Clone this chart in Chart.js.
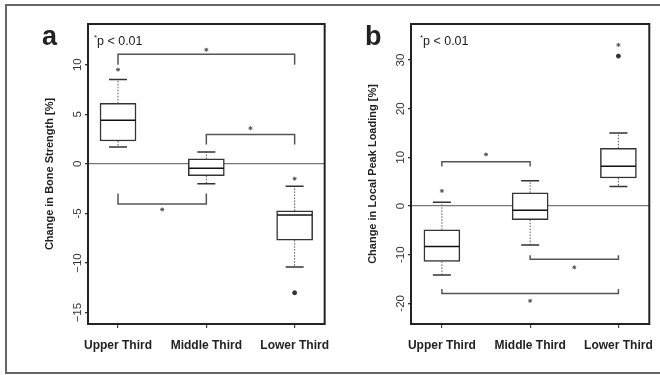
<!DOCTYPE html>
<html>
<head>
<meta charset="utf-8">
<script src="https://cdn.jsdelivr.net/npm/chart.js@4.4.0/dist/chart.umd.min.js"></script>
<style>
  body { margin: 0; background: #fff; }
  #wrap { position: relative; width: 660px; height: 375px; overflow: hidden; }
  #frame {
    position: absolute; left: 5px; top: 4px; width: 700px; height: 366px;
    border-left: 2px solid #666; border-top: 2px solid #666; border-bottom: 2px solid #666;
  }
  canvas { position: absolute; top: 0; }
  #chartA { left: 0; }
  #chartB { left: 330px; }
</style>
</head>
<body>
<div id="wrap">
  <div id="frame"></div>
  <canvas id="chartA" width="341" height="375"></canvas>
  <canvas id="chartB" width="336" height="375"></canvas>
</div>
<script>
/* DATA */

const categories = ['Upper Third', 'Middle Third', 'Lower Third'];

// a: change in bone strength [%]
const boneLow = [1.7, -2.0, -10.4];
const boneQ1 = [2.3, -1.2, -7.7];
const boneMed = [4.4, -0.45, -5.15];
const boneQ3 = [6.1, 0.5, -4.75];
const boneHigh = [8.5, 1.2, -2.25];
const boneOutX = [2];
const boneOutY = [-13.0];
const boneStars = [9.5, null, -1.5];
// [from, to, level, tip end, asterisk]
const boneBrackets = [[0, 2, 11.05, 10.0, 11.5], [1, 2, 2.97, 1.96, 3.6], [0, 1, -4.04, -3.0, -4.6]];
const boneTicks = [-15, -10, -5, 0, 5, 10];
const boneTickLabels = ['\u221215', '\u221210', '-5', '0', '5', '10'];

// b: change in local peak loading [%]
const loadLow = [-14.2, -8.0, 4.0];
const loadQ1 = [-11.4, -2.8, 5.75];
const loadMed = [-8.3, -0.9, 8.15];
const loadQ3 = [-4.9, 2.7, 11.85];
const loadHigh = [0.75, 5.2, 15.0];
const loadOutX = [2];
const loadOutY = [30.8];
const loadStars = [3.1, null, 33.1];
const loadBrackets = [[0, 1, 9.1, 8.1, 10.6], [1, 2, -10.95, -10.1, -12.6], [0, 2, -18.0, -17.05, -19.5]];
const loadTicks = [-20, -10, 0, 10, 20, 30];
const loadTickLabels = ['-20', '-10', '0', '10', '20', '30'];


/* BOX PLOT BUILDER */

const FONT = 'Liberation Sans, Arial, Helvetica, sans-serif';

function makeChart(id, d) {
  const idx = categories.map((c, i) => i);

  // dotted whiskers, broken with nulls
  const whiskers = [];
  idx.forEach(i => {
    whiskers.push({x: i, y: d.q3[i]}, {x: i, y: d.high[i]}, {x: i, y: null});
    whiskers.push({x: i, y: d.q1[i]}, {x: i, y: d.low[i]}, {x: i, y: null});
  });

  const brackets = [];
  d.brackets.forEach(b => {
    brackets.push({x: b[0], y: b[3]}, {x: b[0], y: b[2]}, {x: b[1], y: b[2]}, {x: b[1], y: b[3]}, {x: b[1], y: null});
  });

  const stars = [];
  idx.forEach(i => { if (d.stars[i] !== null) stars.push({x: i, y: d.stars[i]}); });
  d.brackets.forEach(b => stars.push({x: (b[0] + b[1]) / 2, y: b[4]}));

  const extras = {
    id: 'extras',
    afterDraw(chart) {
      const ctx = chart.ctx;
      const a = chart.chartArea;
      const ys = chart.scales.y;
      ctx.save();
      // plot box
      ctx.strokeStyle = '#222';
      ctx.lineWidth = 2;
      ctx.strokeRect(a.left, a.top, a.right - a.left, a.bottom - a.top);
      // rotated y tick labels
      ctx.fillStyle = '#333';
      ctx.font = '11.5px ' + FONT;
      ctx.textAlign = 'center';
      ctx.textBaseline = 'middle';
      ys.ticks.forEach(t => {
        const k = d.ticks.indexOf(t.value);
        if (k < 0) return;
        ctx.save();
        ctx.translate(a.left - 10, ys.getPixelForValue(t.value));
        ctx.rotate(-Math.PI / 2);
        ctx.fillText(d.tickLabels[k], 0, 0);
        ctx.restore();
      });
      // p-value note
      ctx.textAlign = 'left';
      ctx.textBaseline = 'alphabetic';
      ctx.fillStyle = '#222';
      ctx.font = '8px ' + FONT;
      ctx.fillText('*', a.left + d.noteX, a.top + 16);
      ctx.font = '12.5px ' + FONT;
      ctx.fillText('p < 0.01', a.left + d.noteX + 3, a.top + 21);
      // panel letter
      ctx.font = 'bold 27px ' + FONT;
      ctx.fillText(d.letter, d.letterX, 45);
      ctx.restore();
    }
  };

  return new Chart(document.getElementById(id), {
    type: 'bar',
    data: {
      datasets: [
        {
          type: 'scatter', data: idx.map(i => ({x: i, y: d.med[i]})),
          pointStyle: 'line', pointRadius: 17.5, borderColor: '#111', borderWidth: 1.5, order: 0
        },
        {
          type: 'scatter', data: idx.map(i => ({x: i, y: d.high[i]})).concat(idx.map(i => ({x: i, y: d.low[i]}))),
          pointStyle: 'line', pointRadius: 9, borderColor: '#333', borderWidth: 1.5, order: 1
        },
        {
          type: 'scatter', data: d.outX.map((x, k) => ({x: x, y: d.outY[k]})),
          pointRadius: 2, backgroundColor: '#333', borderColor: '#333', borderWidth: 1, order: 1
        },
        {
          type: 'scatter', data: stars,
          pointStyle: 'star', pointRadius: 2, borderColor: '#555', borderWidth: 1, order: 1
        },
        {
          type: 'line', data: whiskers, borderColor: '#555', borderWidth: 1,
          borderDash: [1.5, 1.5], pointRadius: 0, spanGaps: false, order: 2
        },
        {
          type: 'line', data: brackets, borderColor: '#555', borderWidth: 1.5,
          pointRadius: 0, spanGaps: false, order: 2
        },
        {
          type: 'bar', data: idx.map(i => ({x: i, y: [d.q1[i], d.q3[i]]})),
          backgroundColor: '#fff', borderColor: '#333', borderWidth: 1.5,
          borderSkipped: false, barThickness: 36, order: 5
        }
      ]
    },
    options: {
      responsive: false,
      animation: false,
      devicePixelRatio: 1,
      layout: { autoPadding: false, padding: { left: 0, top: 24, right: d.padRight, bottom: 0 } },
      plugins: { legend: { display: false }, tooltip: { enabled: false } },
      scales: {
        x: {
          type: 'linear', min: d.xMin, max: d.xMax, offset: false,
          afterFit: s => { s.height = 51; },
          border: { display: false },
          grid: { offset: false, drawOnChartArea: false, tickLength: 4, tickColor: '#444', lineWidth: 1.2 },
          ticks: {
            stepSize: 1, includeBounds: false, autoSkip: false, maxRotation: 0, padding: 10,
            color: '#222', font: { family: FONT, size: 12, weight: 'bold' },
            callback: v => categories[Math.round(v)]
          }
        },
        y: {
          type: 'linear', min: d.yMin, max: d.yMax,
          afterFit: s => { s.width = d.axisWidth; },
          border: { display: false },
          grid: {
            color: c => (c.tick && c.tick.value === 0) ? '#777' : 'rgba(0,0,0,0)',
            tickColor: '#333', tickLength: 3, lineWidth: 1.3
          },
          ticks: { stepSize: d.step, includeBounds: false, display: false },
          title: {
            display: true, text: d.title, color: '#222',
            font: { family: FONT, size: 11, weight: 'bold' },
            padding: { top: d.titlePad, bottom: 0 }
          }
        }
      }
    },
    plugins: [extras]
  });
}

makeChart('chartA', {
  low: boneLow, q1: boneQ1, med: boneMed, q3: boneQ3, high: boneHigh,
  outX: boneOutX, outY: boneOutY, stars: boneStars, brackets: boneBrackets,
  ticks: boneTicks, tickLabels: boneTickLabels, step: 5,
  yMin: -16.15, yMax: 14.1, xMin: -0.34, xMax: 2.34,
  axisWidth: 88, padRight: 16, titlePad: 43, noteX: 6, letter: 'a', letterX: 42,
  title: 'Change in Bone Strength [%]'
});

makeChart('chartB', {
  low: loadLow, q1: loadQ1, med: loadMed, q3: loadQ3, high: loadHigh,
  outX: loadOutX, outY: loadOutY, stars: loadStars, brackets: loadBrackets,
  ticks: loadTicks, tickLabels: loadTickLabels, step: 10,
  yMin: -24.25, yMax: 37.4, xMin: -0.35, xMax: 2.35,
  axisWidth: 81, padRight: 16.7, titlePad: 36, noteX: 9, letter: 'b', letterX: 35,
  title: 'Change in Local Peak Loading [%]'
});
</script>
</body>
</html>
